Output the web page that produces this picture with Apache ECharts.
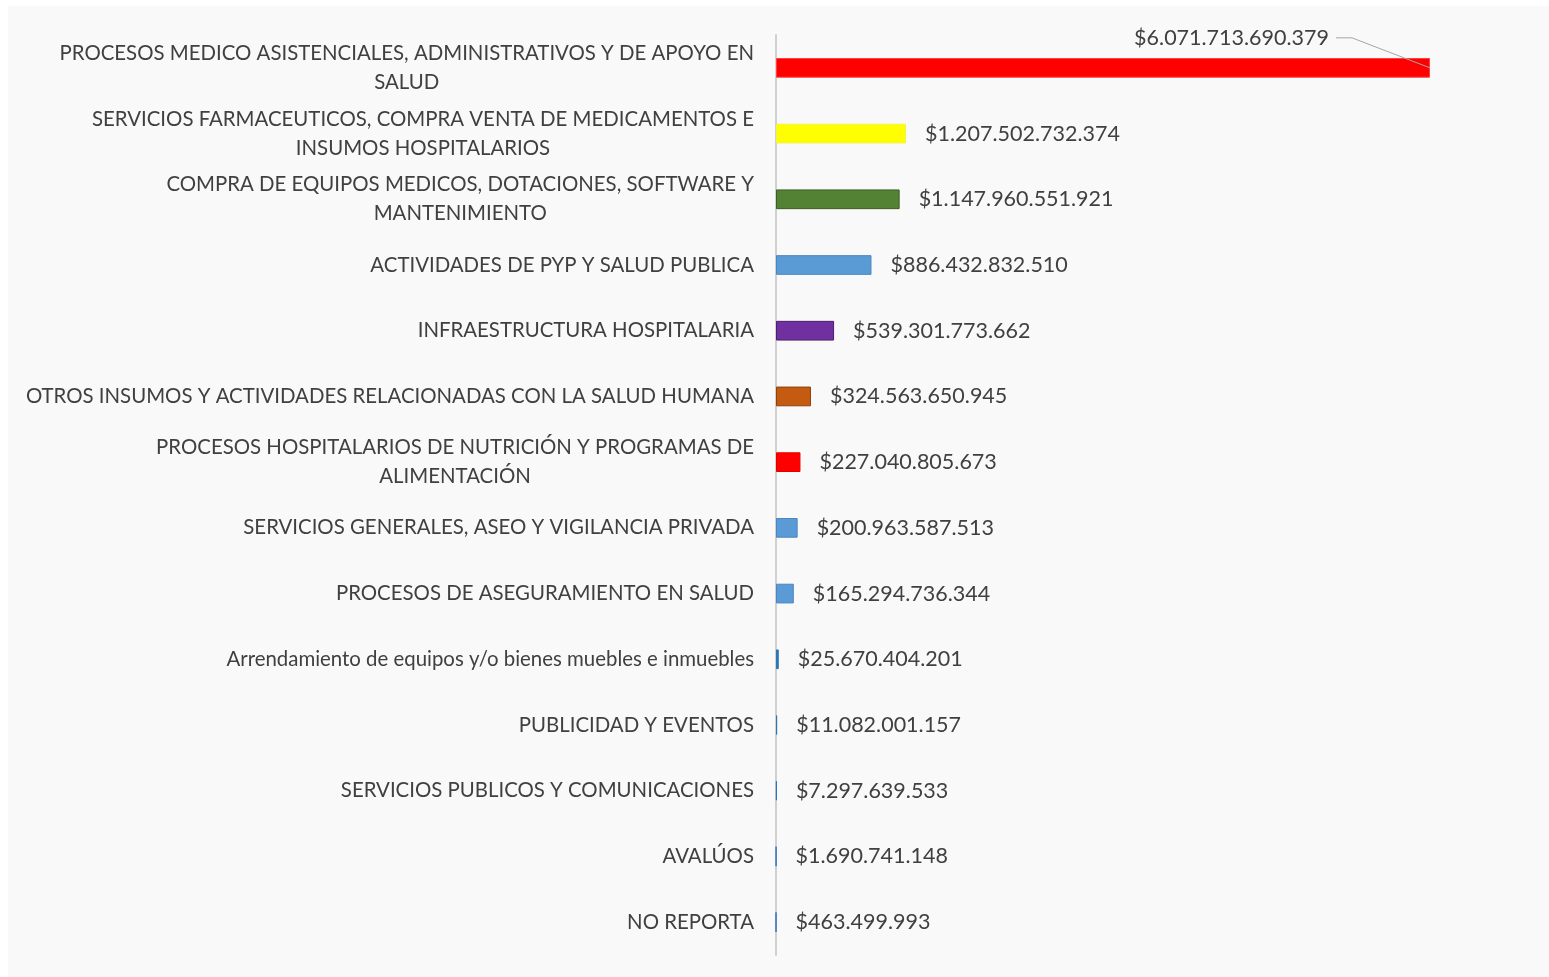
<!DOCTYPE html>
<html>
<head>
<meta charset="utf-8">
<script src="https://cdn.jsdelivr.net/npm/echarts@6/dist/echarts.min.js"></script>
<style>
  html, body { margin: 0; padding: 0; background: #ffffff; }
  #chart { position: absolute; left: 8px; top: 6px; width: 1541px; height: 971px; background: #f9f9f9; }
</style>
</head>
<body>
<div id="chart"></div>
<script>
const categories = [
  "PROCESOS MEDICO ASISTENCIALES, ADMINISTRATIVOS Y DE APOYO EN\nSALUD",
  "SERVICIOS FARMACEUTICOS, COMPRA VENTA DE MEDICAMENTOS E\nINSUMOS HOSPITALARIOS",
  "COMPRA DE EQUIPOS MEDICOS, DOTACIONES, SOFTWARE Y\nMANTENIMIENTO",
  "ACTIVIDADES DE PYP Y SALUD PUBLICA",
  "INFRAESTRUCTURA HOSPITALARIA",
  "OTROS INSUMOS Y ACTIVIDADES RELACIONADAS CON LA SALUD HUMANA",
  "PROCESOS HOSPITALARIOS DE NUTRICIÓN Y PROGRAMAS DE\nALIMENTACIÓN",
  "SERVICIOS GENERALES, ASEO Y VIGILANCIA PRIVADA",
  "PROCESOS DE ASEGURAMIENTO EN SALUD",
  "Arrendamiento de equipos y/o bienes muebles e inmuebles",
  "PUBLICIDAD Y EVENTOS",
  "SERVICIOS PUBLICOS Y COMUNICACIONES",
  "AVALÚOS",
  "NO REPORTA"
];
const values = [
  6071713690379, 1207502732374, 1147960551921, 886432832510, 539301773662,
  324563650945, 227040805673, 200963587513, 165294736344, 25670404201,
  11082001157, 7297639533, 1690741148, 463499993
];
const barColors = [
  "#ff0000", "#ffff00", "#548235", "#5b9bd5", "#7030a0", "#c55a11", "#ff0000",
  "#5b9bd5", "#5b9bd5", "#2e75b6", "#2e75b6", "#2e75b6", "#2e75b6", "#2e75b6"
];
const barBorders = [
  "#ff4040", "#f2f24a", "#3b5e22", "#4a86c0", "#4b1f70", "#8f400b", "#e00000",
  "#4a86c0", "#4a86c0", "#2e75b6", "#2e75b6", "#2e75b6", "#2e75b6", "#2e75b6"
];

function fmtMoney(v) {
  return "$" + String(v).replace(/\B(?=(\d{3})+(?!\d))/g, ".");
}

const FONT = "Lato";
const chart = echarts.init(document.getElementById("chart"));
const option = {
  backgroundColor: "#f9f9f9",
  animation: false,
  grid: { left: 768, top: 29, right: 119, bottom: 22, containLabel: false },
  xAxis: {
    type: "value", min: 0, max: "dataMax", show: false
  },
  yAxis: {
    type: "category",
    data: categories,
    inverse: true,
    axisLine: { show: true, lineStyle: { color: "#d0d0d0", width: 2 } },
    axisTick: { show: false },
    splitLine: { show: false },
    axisLabel: {
      margin: 22,
      interval: 0,
      formatter: function (v) {
        return v.split("\n").map(function (l) { return "{c|" + l + "}"; }).join("\n");
      },
      rich: {
        c: { align: "center", fontFamily: FONT, fontSize: 20.4, color: "#404040", lineHeight: 29 }
      }
    }
  },
  series: [{
    type: "bar",
    barWidth: "30%",
    data: values.map(function (v, i) {
      return {
        value: v,
        itemStyle: { color: barColors[i], borderColor: barBorders[i], borderWidth: 1 }
      };
    }),
    label: {
      show: true,
      position: "right",
      distance: 19,
      fontFamily: FONT,
      fontSize: 21.5,
      color: "#404040",
      formatter: function (p) { return fmtMoney(p.value); }
    },
    labelLayout: function (params) {
      if (params.dataIndex === 0) {
        return {
          x: params.rect.x + params.rect.width - 101,
          y: params.rect.y + params.rect.height / 2 - 30,
          align: "right",
          verticalAlign: "middle"
        };
      }
      return {};
    }
  }]
};
chart.setOption(option);

// leader line for the first (largest) bar label, derived from the data through the axes
const endPt = chart.convertToPixel({ seriesIndex: 0 }, [values[0], 0]);
const labelRight = endPt[0] - 101;
const labelY = endPt[1] - 30;
chart.setOption({
  graphic: [{
    type: "polyline",
    shape: { points: [[labelRight + 7, labelY], [labelRight + 23, labelY], [endPt[0], endPt[1]]] },
    style: { stroke: "#a6a6a6", lineWidth: 1, fill: null },
    z: 100
  }]
});
</script>
</body>
</html>
